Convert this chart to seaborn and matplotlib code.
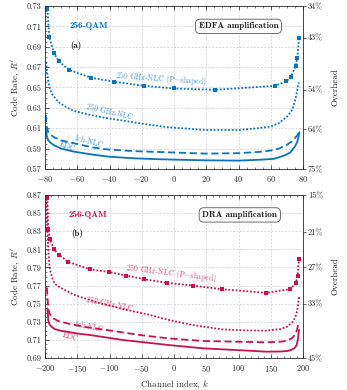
import numpy as np
import pandas as pd
import seaborn as sns
import matplotlib.pyplot as plt
from matplotlib.ticker import MultipleLocator

# ---- dati ----
# (a) EDFA amplification
x_edc_a = [-79.5, -79, -78, -76, -74, -70, -62, -50, -40, -25, -8, 5, 20, 40, 55, 62, 68, 72, 75, 76.5, 77.8]
edc_a = [0.611, 0.603, 0.598, 0.595, 0.593, 0.590, 0.587, 0.584, 0.582, 0.5805, 0.5795, 0.579, 0.5785, 0.5782,
         0.5792, 0.580, 0.583, 0.586, 0.592, 0.597, 0.606]
x_1ch_a = [-79.5, -79, -78, -75, -70, -62, -50, -42, -25, -4, 19, 40, 55, 60, 65, 70, 73, 75, 76.5, 77.5]
ch1_a = [0.623, 0.612, 0.606, 0.6017, 0.598, 0.5952, 0.591, 0.5893, 0.5875, 0.5864, 0.5851, 0.5855, 0.587,
         0.5882, 0.590, 0.5937, 0.597, 0.6004, 0.603, 0.606]
x_nlc_a = [-79.3, -78.5, -77.5, -76, -73, -70.7, -66, -62.4, -52, -42, -31.4, -18, -3.5, 19, 40, 52, 59.5,
           65, 70, 72.5, 74, 75.5, 76.5, 77.3]
nlc_a = [0.675, 0.662, 0.652, 0.6445, 0.638, 0.6345, 0.630, 0.6272, 0.623, 0.620, 0.6174, 0.614, 0.611,
         0.6083, 0.6083, 0.610, 0.6115, 0.615, 0.6213, 0.626, 0.631, 0.640, 0.648, 0.655]
x_ps_a = [-78.5, -77.3, -74.4, -71.3, -65.2, -51.3, -37, -18.3, 0, 25.4, 62.6, 69.5, 72.4, 75.5, 76.5, 77.5]
ps_a = [0.7267, 0.6993, 0.6836, 0.6755, 0.6673, 0.6595, 0.6556, 0.6516, 0.649, 0.6477, 0.6516, 0.6559,
        0.6598, 0.6715, 0.6794, 0.699]

# (b) DRA amplification
x_edc_b = [-196.4, -195.5, -195, -193, -190, -185, -175, -166, -150, -130, -79, -9, 45, 97, 143, 165, 175,
           182, 187, 190, 192, 193.8]
edc_b = [0.7448, 0.738, 0.732, 0.727, 0.7246, 0.722, 0.720, 0.7191, 0.717, 0.7154, 0.7099, 0.7044, 0.7007,
         0.6988, 0.697, 0.6972, 0.6977, 0.699, 0.701, 0.704, 0.710, 0.721]
x_1ch_b = [-197, -196.4, -195, -193, -190, -187, -180, -166, -140, -104, -53, -9, 45, 97, 143, 165, 175, 183,
           188, 191, 193]
ch1_b = [0.768, 0.7596, 0.7448, 0.739, 0.736, 0.7338, 0.731, 0.7283, 0.7245, 0.7209, 0.7154, 0.7117, 0.7088,
         0.708, 0.7073, 0.708, 0.709, 0.712, 0.716, 0.722, 0.7283]
x_nlc_b = [-198, -196.5, -195, -193.5, -192, -189, -185, -177, -166, -156, -130, -115, -100, -79, -40, -8, 29,
           74, 110, 143, 165, 175, 183, 188, 191, 193, 194]
nlc_b = [0.862, 0.835, 0.812, 0.795, 0.787, 0.779, 0.772, 0.768, 0.764, 0.760, 0.754, 0.7504, 0.748, 0.744,
         0.738, 0.732, 0.7264, 0.7217, 0.7205, 0.7202, 0.722, 0.7245, 0.729, 0.735, 0.742, 0.752, 0.758]
x_ps_b = [-196.4, -195, -192.2, -186, -178.3, -164, -131, -101, -74, -46, -11, 29, 74, 143, 180, 189, 191.6, 193.8]
ps_b = [0.867, 0.832, 0.821, 0.810, 0.804, 0.796, 0.788, 0.785, 0.781, 0.777, 0.773, 0.770, 0.766, 0.762,
        0.766, 0.773, 0.781, 0.799]

# overhead (asse destro)
oh_pos_a = [0.73, 0.699, 0.648, 0.609, 0.57]
oh_lab_a = ['34%', '43%', '54%', '64%', '75%']
oh_pos_b = [0.87, 0.829, 0.79, 0.75, 0.69]
oh_lab_b = ['15%', '21%', '27%', '33%', '45%']

sns.set_style('ticks')
plt.rcParams['font.family'] = ['cmr10', 'DejaVu Serif']
plt.rcParams['mathtext.fontset'] = 'cm'
plt.rcParams['axes.formatter.use_mathtext'] = True
plt.rcParams['axes.unicode_minus'] = True

fig = plt.figure(figsize=(3.47, 3.9), dpi=100)
ax_a = fig.add_axes([0.1297, 0.5667, 0.7435, 0.418])
ax_b = fig.add_axes([0.1297, 0.082, 0.7435, 0.418])

DOT = (0, (1, 1.0))
DASH = (0, (4, 2))


def draw_panel(ax, color, curves, ps, xlim, ylim, xmaj, xmin, oh_pos, oh_lab):
    for xs, ys, ls in curves:
        sns.lineplot(x=xs, y=ys, ax=ax, color=color, linestyle=ls, lw=1.3, estimator=None, sort=False)
    sns.lineplot(x=ps[0], y=ps[1], ax=ax, color=color, linestyle=DOT, lw=1.3, marker='s', markersize=3.2,
                 markeredgewidth=0, estimator=None, sort=False)
    ax.set_xlim(*xlim)
    ax.set_ylim(*ylim)
    ax.xaxis.set_major_locator(MultipleLocator(xmaj))
    ax.xaxis.set_minor_locator(MultipleLocator(xmin))
    ax.yaxis.set_minor_locator(MultipleLocator(0.005))
    ax.set_yticks(np.arange(ylim[0], ylim[1] + 0.001, 0.02))
    ax.yaxis.set_major_formatter(plt.FormatStrFormatter('%.2f'))
    ax.tick_params(which='both', direction='in', top=True, right=True, labelsize=6)
    ax.tick_params(axis='x', pad=3.5)
    ax.tick_params(axis='y', pad=2.5)
    ax.tick_params(which='major', length=3, width=0.5)
    ax.tick_params(which='minor', length=1.5, width=0.4)
    ax.grid(True, which='major', linestyle=(0, (3, 2)), color='#cccccc', lw=0.5)
    for s in ax.spines.values():
        s.set_linewidth(0.6)
    ax.set_ylabel("Code Rate, $R'$", fontsize=6.5, labelpad=3)
    ax.set_xlabel('')
    ax2 = ax.twinx()
    ax2.set_ylim(*ylim)
    ax2.set_yticks(oh_pos)
    ax2.set_yticklabels(oh_lab)
    ax2.tick_params(axis='y', direction='out', length=2.5, width=0.5, labelsize=6, pad=1)
    ax2.set_ylabel('Overhead', fontsize=6.5, labelpad=6)
    for s in ax2.spines.values():
        s.set_visible(False)
    return ax2


blue = '#0b72bd'
crimson = '#c8124f'

draw_panel(ax_a, blue, [(x_edc_a, edc_a, '-'), (x_1ch_a, ch1_a, DASH), (x_nlc_a, nlc_a, DOT)],
           (x_ps_a, ps_a), (-80, 80), (0.57, 0.73), 20, 5, oh_pos_a, oh_lab_a)
draw_panel(ax_b, crimson, [(x_edc_b, edc_b, '-'), (x_1ch_b, ch1_b, DASH), (x_nlc_b, nlc_b, DOT)],
           (x_ps_b, ps_b), (-200, 200), (0.69, 0.87), 50, 10, oh_pos_b, oh_lab_b)
ax_b.set_xlabel('Channel index, $k$', fontsize=6.5, labelpad=3)

box = dict(boxstyle='round,pad=0.35,rounding_size=0.5', fc='white', ec='#555555', lw=0.6)
lab = dict(alpha=0.75, fontsize=5.5, ha='center', va='center')

# pannello (a)
ax_a.text(-53, 0.710, '256-QAM', color=blue, fontsize=6.5, family='cmb10', ha='center', va='center')
ax_a.text(-61, 0.691, '(a)', fontsize=6.5, family='cmb10', ha='center', va='center')
ax_a.text(40, 0.710, 'EDFA amplification', fontsize=6.5, family='cmb10', ha='center', va='center', bbox=box)
ax_a.text(-8, 0.6585, '250 GHz-NLC (P$-$shaped)', color=blue, rotation=-4, **lab)
ax_a.text(-40, 0.6255, '250 GHz-NLC', color=blue, rotation=-13, **lab)
ax_a.text(-53, 0.5968, '1ch-NLC', color=blue, rotation=-15, **lab)
ax_a.text(-66, 0.5918, 'EDC', color=blue, rotation=-20, **lab)

# pannello (b)
ax_b.text(-133, 0.848, '256-QAM', color=crimson, fontsize=6.5, family='cmb10', ha='center', va='center')
ax_b.text(-150, 0.827, '(b)', fontsize=6.5, family='cmb10', ha='center', va='center')
ax_b.text(102, 0.848, 'DRA amplification', fontsize=6.5, family='cmb10', ha='center', va='center', bbox=box)
ax_b.text(-5, 0.7835, '250 GHz-NLC (P$-$shaped)', color=crimson, rotation=-7, **lab)
ax_b.text(-100, 0.749, '250 GHz-NLC', color=crimson, rotation=-11, **lab)
ax_b.text(-133, 0.7248, '1ch-NLC', color=crimson, rotation=-12, **lab)
ax_b.text(-161, 0.7135, 'EDC', color=crimson, rotation=-15, **lab)

fig.savefig('out.png', dpi=100)
